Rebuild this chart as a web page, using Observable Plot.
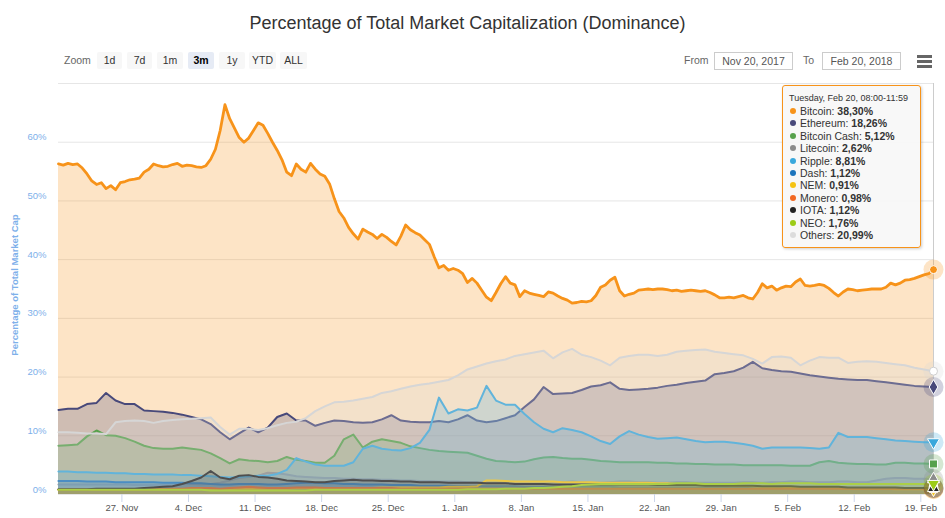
<!DOCTYPE html>
<html><head><meta charset="utf-8">
<script src="https://cdn.jsdelivr.net/npm/d3@7"></script>
<script src="https://cdn.jsdelivr.net/npm/@observablehq/plot@0.6"></script>
<style>
body{margin:0;width:945px;height:518px;overflow:hidden;background:#fff;position:relative;font-family:"Liberation Sans",Arial,sans-serif}
.abs{position:absolute}
#title{top:13px;left:0;width:935px;text-align:center;font-size:18px;color:#333;line-height:21px}
.lbl{font-size:10.5px;color:#666;line-height:17px;top:52px}
.btn{top:52px;height:17px;line-height:17px;background:#f7f7f7;color:#333;font-size:10.5px;text-align:center;border-radius:2px}
.btn.sel{background:#e6ebf5;color:#000;font-weight:bold}
.inp{top:52px;height:16px;line-height:16px;border:1px solid #cccccc;color:#555;font-size:10.5px;text-align:center;box-sizing:border-box;height:18px}
.bar{left:917px;width:15px;height:2.5px;background:#666}
#ytitle{left:14px;top:285px;transform:translate(-50%,-50%) rotate(-90deg);white-space:nowrap;font-weight:bold;font-size:9.5px;color:#7eb0ea}
#chart{top:75px;left:0}
#tip{left:782px;top:85px;width:139px;height:163px;box-sizing:border-box;background:rgba(247,247,247,0.9);border:1px solid #f7931a;border-radius:3px;box-shadow:1px 1px 3px rgba(0,0,0,0.2);padding:6px 0 0 6px;color:#333}
#tip .hd{font-size:9px;line-height:12px;margin-bottom:1px}
#tip .row{font-size:10.5px;line-height:12.4px;white-space:nowrap}
#tip .dot{display:inline-block;width:6px;height:6px;border-radius:50%;margin:0 4px 0 1px;vertical-align:1px}
</style></head><body>
<div id="title" class="abs">Percentage of Total Market Capitalization (Dominance)</div>
<div id="toolbar"></div>
<div id="ytitle" class="abs">Percentage of Total Market Cap</div>
<div id="chart" class="abs"></div>
<div id="tip" class="abs"></div>
<script>
// ---- data ----
const startTime = "2017-11-20T08:00:00Z";
const endTime = "2018-02-20T08:00:00Z";
const seriesNames = ["Bitcoin","Ethereum","Bitcoin Cash","Litecoin","Ripple","Dash","NEM","Monero","IOTA","NEO","Others"];
const seriesColors = ["#f7931a","#48497a","#57a14c","#8c8c8c","#3aa8dc","#1c74bc","#f5c314","#f26822","#222222","#9ccc18","#d6d6d6"];
const tooltipHeader = "Tuesday, Feb 20, 08:00-11:59";
const tooltipValues = ["38,30%","18,26%","5,12%","2,62%","8,81%","1,12%","0,91%","0,98%","1,12%","1,76%","20,99%"];
const xTickDates = ["2017-11-27","2017-12-04","2017-12-11","2017-12-18","2017-12-25","2018-01-01","2018-01-08","2018-01-15","2018-01-22","2018-01-29","2018-02-05","2018-02-12","2018-02-19"];
const yTickValues = [0,10,20,30,40,50,60];
const yGridValues = [0,10,20,30,40,50,60,70];
const zoomButtons = ["1d","7d","1m","3m","1y","YTD","ALL"];
const selectedButton = "3m";
const fromDate = "Nov 20, 2017";
const toDate = "Feb 20, 2018";

// Bitcoin: every 12 hours
const bitcoin = [
56.3,56.1,56.4,56.2,56.3,55.6,54.6,53.4,52.8,53.1,
52.1,52.6,51.9,53.1,53.3,53.6,53.7,53.9,54.9,55.4,
56.3,56.0,55.8,55.9,56.2,56.4,55.9,56.1,56.0,55.8,
55.7,56.0,57.1,58.8,62.0,66.4,64.0,62.4,60.8,60.0,
60.7,62.0,63.3,62.9,61.5,60.0,58.6,57.0,54.9,54.3,
56.3,55.4,54.9,56.4,55.4,54.6,54.2,52.9,50.4,48.2,
47.1,45.5,44.4,43.5,45.2,44.7,44.3,43.6,44.3,43.8,
43.1,42.5,44.0,45.9,45.1,44.6,44.2,43.4,42.6,40.5,
38.6,39.0,38.2,38.5,38.2,37.6,36.1,36.8,36.0,34.8,
33.6,33.0,34.4,35.9,37.1,36.0,35.7,33.7,34.7,34.3,
34.1,33.9,33.7,34.5,34.3,33.8,33.4,33.1,32.6,32.7,
32.9,32.8,33.0,33.9,35.3,35.7,36.5,37.0,34.7,33.8,
34.1,34.3,34.8,34.9,35.0,34.9,35.0,35.0,34.9,34.7,
34.8,34.6,34.7,34.8,34.7,34.6,34.7,34.4,34.0,33.5,
33.5,33.6,33.5,33.7,33.9,33.5,33.3,34.4,35.9,35.2,
35.5,34.8,35.2,35.5,35.4,36.2,36.7,35.6,35.5,35.6,
35.8,35.6,35.1,34.4,33.8,34.5,35.0,34.9,34.7,34.8,
34.9,35.0,35.0,35.0,35.3,36.0,35.7,36.0,36.5,36.6,
36.8,37.1,37.4,37.6,38.3];

// the rest: daily
const ethereum = [
14.4,14.6,14.6,15.4,15.6,17.3,16.0,15.4,15.4,14.3,
14.2,14.1,13.9,13.6,13.2,12.8,12.0,10.6,9.4,10.4,
11.4,10.6,11.4,13.2,13.8,12.6,12.6,11.7,12.2,12.6,
12.5,12.3,12.2,12.3,12.8,13.5,12.6,12.4,12.3,12.3,
12.5,12.3,12.8,13.5,12.6,12.3,12.5,13.0,13.5,14.9,
16.2,18.3,17.1,17.2,17.3,17.8,18.4,18.6,19.1,18.0,
17.8,17.9,18.0,18.2,18.5,18.7,19.0,19.2,19.4,20.5,
20.7,21.0,21.6,22.6,21.5,21.2,21.0,20.9,20.6,20.3,
20.1,19.9,19.7,19.6,19.5,19.5,19.3,19.1,18.9,18.7,
18.5,18.4,18.3];
const bitcoinCash = [
8.3,8.4,8.5,9.9,10.9,10.1,10.0,9.6,9.0,8.3,
7.9,7.8,7.8,8.0,7.8,7.6,7.0,6.2,5.3,6.0,
5.8,5.7,5.5,5.7,6.4,5.9,5.7,5.4,5.4,6.6,
9.4,10.2,8.0,9.0,9.4,9.1,8.8,8.2,7.9,7.6,
7.4,7.3,7.2,7.1,6.6,6.1,5.7,5.6,5.5,5.6,
6.0,6.3,6.4,6.2,6.1,6.1,5.9,5.7,5.6,5.5,
5.5,5.5,5.5,5.4,5.4,5.3,5.3,5.2,5.2,5.1,
5.1,5.1,5.0,5.0,5.0,5.0,5.0,4.9,4.9,4.9,
5.5,5.7,5.4,5.3,5.2,5.2,5.1,5.1,5.4,5.4,
5.3,5.3,5.2];
const litecoin = [
1.7,1.7,1.7,1.7,1.7,1.7,1.7,1.7,1.6,1.6,
1.6,1.6,1.7,1.8,1.8,1.7,1.8,2.0,2.4,2.8,
3.0,3.2,3.7,3.6,3.4,3.1,3.0,2.9,2.8,2.8,
2.7,2.7,2.6,2.6,2.5,2.5,2.4,2.4,2.3,2.3,
2.2,2.2,2.2,2.1,2.1,2.1,2.1,2.1,2.1,2.1,
2.2,2.2,2.1,2.1,2.2,2.1,2.0,2.0,2.1,2.2,
2.2,2.1,2.1,2.0,2.0,2.1,2.1,2.0,2.0,2.0,
2.0,2.0,2.1,2.1,2.0,2.1,2.1,2.2,2.2,2.1,
2.1,2.1,2.2,2.2,2.1,2.1,2.4,2.7,2.8,2.8,
2.7,2.7,2.6];
const ripple = [
3.9,3.9,3.8,3.8,3.7,3.7,3.6,3.6,3.5,3.5,
3.4,3.4,3.4,3.3,3.3,3.2,3.1,3.0,2.9,3.0,
3.1,3.2,3.2,3.5,4.2,6.2,5.6,5.1,4.9,4.9,
4.9,5.5,7.8,8.3,7.8,7.6,7.5,7.9,8.8,11.0,
16.5,13.8,14.5,14.3,14.8,18.5,16.0,15.3,15.3,13.7,
12.3,11.2,10.6,11.3,11.0,10.6,9.9,9.1,8.6,9.9,
10.8,10.2,9.8,9.5,9.6,9.7,9.4,9.1,8.9,9.0,
9.0,8.8,8.6,8.3,7.8,8.0,8.0,8.0,8.0,7.9,
7.8,8.0,10.5,9.8,9.8,9.8,9.6,9.4,9.2,9.1,
9.0,8.9,8.9];
const dash = [
2.3,2.3,2.3,2.2,2.2,2.2,2.1,2.1,2.1,2.1,
2.1,2.0,2.0,2.0,1.9,1.9,1.8,1.7,1.7,1.8,
1.8,1.8,1.7,1.7,1.8,1.9,2.0,2.0,1.9,1.9,
1.8,1.8,1.7,1.7,1.7,1.6,1.6,1.6,1.5,1.5,
1.5,1.5,1.4,1.4,1.4,1.4,1.4,1.4,1.4,1.3,
1.3,1.3,1.3,1.3,1.3,1.3,1.3,1.3,1.3,1.2,
1.2,1.2,1.2,1.2,1.2,1.2,1.2,1.2,1.2,1.2,
1.2,1.2,1.2,1.2,1.2,1.2,1.2,1.2,1.1,1.1,
1.1,1.1,1.1,1.1,1.1,1.1,1.1,1.1,1.1,1.1,
1.1,1.1,1.1];
const nem = [
0.8,0.8,0.8,0.8,0.8,0.8,0.8,0.8,0.8,0.8,
0.9,0.9,0.9,0.9,1.0,1.0,1.0,0.9,0.9,1.0,
1.0,1.0,1.0,1.0,1.0,1.1,1.1,1.1,1.1,1.1,
1.1,1.1,1.1,1.1,1.2,1.2,1.2,1.2,1.2,1.2,
1.2,1.3,1.3,1.3,1.4,2.4,2.4,2.3,2.2,2.2,
2.2,2.2,2.2,2.1,2.1,2.1,2.1,2.0,2.0,2.0,
2.0,2.0,2.0,1.9,1.9,1.8,1.8,1.7,1.7,1.6,
1.6,1.5,1.5,1.4,1.3,1.3,1.3,1.2,1.2,1.2,
1.1,1.1,1.1,1.0,1.0,1.0,1.0,1.0,0.9,0.9,
0.9,0.9,0.9];
const monero = [
0.8,0.8,0.8,0.8,0.8,0.8,0.8,0.8,0.8,0.8,
0.9,0.9,1.0,1.0,1.1,1.1,1.1,1.0,1.1,1.2,
1.3,1.2,1.1,1.1,1.1,1.2,1.2,1.2,1.1,1.1,
1.1,1.1,1.1,1.1,1.1,1.1,1.0,1.0,1.0,1.0,
1.0,1.0,1.0,1.0,1.0,1.0,1.0,1.0,1.0,1.0,
1.0,1.0,1.0,1.0,1.0,1.0,1.0,1.0,1.0,1.0,
1.0,1.0,1.0,1.0,1.0,1.0,1.0,1.0,1.0,1.0,
1.0,1.0,1.0,1.0,1.0,1.0,1.0,1.0,1.0,1.0,
1.0,1.0,1.0,1.0,1.0,1.0,1.0,1.0,1.0,1.0,
1.0,1.0,1.0];
const iota = [
0.9,0.9,0.9,0.9,1.0,1.0,1.0,1.0,1.0,1.1,
1.2,1.3,1.4,1.8,2.3,2.9,4.0,2.9,2.6,3.2,
3.3,3.0,2.9,2.7,2.4,2.3,2.2,2.1,2.1,2.3,
2.4,2.5,2.4,2.4,2.3,2.3,2.2,2.2,2.1,2.1,
2.1,2.0,2.0,2.0,2.0,1.9,1.9,1.9,1.8,1.8,
1.8,1.8,1.7,1.7,1.7,1.7,1.7,1.7,1.7,1.7,
1.7,1.7,1.7,1.6,1.6,1.6,1.6,1.6,1.5,1.5,
1.5,1.5,1.5,1.5,1.4,1.4,1.4,1.4,1.3,1.3,
1.3,1.3,1.3,1.2,1.2,1.2,1.2,1.2,1.2,1.1,
1.1,1.1,1.1];
const neo = [
0.8,0.8,0.8,0.8,0.8,0.8,0.8,0.8,0.8,0.8,
0.8,0.8,0.8,0.8,0.8,0.8,0.7,0.7,0.7,0.7,
0.7,0.7,0.7,0.7,0.7,0.7,0.7,0.8,0.8,0.8,
0.8,0.8,0.8,0.8,0.8,0.8,0.8,0.8,0.8,0.8,
0.8,0.8,0.8,0.9,0.9,0.9,0.9,1.0,1.0,1.0,
1.1,1.1,1.2,1.3,1.4,1.6,1.7,1.8,1.8,1.8,
1.8,1.8,1.8,1.8,1.8,1.9,1.9,1.9,1.8,1.8,
1.8,1.8,1.9,1.9,1.9,1.8,1.9,1.9,1.9,1.9,
1.8,1.8,1.8,1.8,1.8,1.8,1.8,1.8,1.8,1.8,
1.8,1.8,1.8];
const others = [
10.6,10.6,10.5,10.4,10.4,10.3,12.3,12.5,12.6,12.5,
12.2,12.5,12.7,12.8,12.9,13.0,13.1,11.5,10.2,11.2,
11.2,11.0,11.3,11.8,12.2,12.4,13.0,14.2,15.0,15.7,
15.8,16.0,16.3,16.6,17.3,17.6,18.0,18.4,18.7,18.9,
19.2,19.5,20.3,21.3,21.8,22.3,22.7,23.0,23.6,23.9,
24.2,24.5,23.2,24.2,24.8,23.8,23.4,22.8,22.0,23.3,
23.6,23.8,23.8,23.6,23.8,24.3,24.5,24.6,24.7,24.3,
24.1,23.9,23.7,23.1,22.3,23.4,23.5,23.3,22.0,22.8,
23.4,23.3,23.3,22.4,22.6,22.7,22.6,22.4,22.2,22.0,
21.6,21.3,21.0];

const seriesValues = [bitcoin, ethereum, bitcoinCash, litecoin, ripple, dash, nem, monero, iota, neo, others];
const seriesStepHours = [12,24,24,24,24,24,24,24,24,24,24];
const markerSymbols = ["circle","diamond","square","triangle","triangle","circle","diamond","square","triangle","triangle","circle"];
const markerRotate = [0,0,0,0,180,0,0,0,0,180,0];

// ---- build ----
const t0 = new Date(startTime).getTime();
const t1 = new Date(endTime);
const rowsOf = k => seriesValues[k].map((v, i) => ({date: new Date(t0 + i * seriesStepHours[k] * 3600e3), value: v}));
const font = '"Liberation Sans", Arial, sans-serif';

const marks = [];
marks.push(Plot.ruleY(yGridValues, {stroke: "#e6e6e6", strokeWidth: 1}));
marks.push(Plot.ruleX([t1], {stroke: "#cccccc", strokeWidth: 1}));
seriesNames.forEach((name, k) => {
  const rows = rowsOf(k);
  marks.push(Plot.areaY(rows, {x: "date", y: "value", fill: seriesColors[k], fillOpacity: 0.25}));
  marks.push(Plot.lineY(rows, {x: "date", y: "value", stroke: seriesColors[k], strokeWidth: k === 0 ? 2.8 : 2, strokeLinejoin: "round"}));
});
seriesNames.forEach((name, k) => {
  const rows = rowsOf(k);
  const last = [rows[rows.length - 1]];
  marks.push(Plot.dot(last, {x: "date", y: "value", r: 10, fill: seriesColors[k], fillOpacity: 0.25, stroke: "none"}));
});
seriesNames.forEach((name, k) => {
  const rows = rowsOf(k);
  const last = [rows[rows.length - 1]];
  marks.push(Plot.dot(last, {x: "date", y: "value", r: k === 0 || k === 10 ? 4 : 4.5, symbol: markerSymbols[k], rotate: markerRotate[k],
    fill: k === 10 ? "#ffffff" : seriesColors[k], stroke: k === 10 ? "#d0d0d0" : "#ffffff", strokeWidth: 1}));
});
marks.push(Plot.text(yTickValues, {y: d => d, frameAnchor: "left", dx: -12, dy: -5, textAnchor: "end", text: d => d + "%", fill: "#7eb0ea", fontSize: 9.5}));
marks.push(Plot.axisX({ticks: xTickDates.map(d => new Date(d + "T00:00:00Z")), tickFormat: d3.utcFormat("%-d. %b"),
  tickSize: 8, tickPadding: 2, stroke: "#ccd6eb", fill: "#555", label: null, fontSize: 9.5}));

const chart = Plot.plot({
  width: 945, height: 443,
  marginTop: 8, marginBottom: 24, marginLeft: 58, marginRight: 12,
  x: {type: "utc", domain: [new Date(startTime), t1]},
  y: {domain: [0, 70], axis: null},
  style: {fontFamily: font, fontSize: "9.5px", background: "transparent", overflow: "visible"},
  marks
});
document.getElementById("chart").appendChild(chart);

// toolbar
const tb = document.getElementById("toolbar");
function add(cls, text, left, width, extra) {
  const e = document.createElement("div");
  e.className = "abs " + cls;
  e.textContent = text;
  e.style.left = left + "px";
  if (width) e.style.width = width + "px";
  if (extra) Object.assign(e.style, extra);
  tb.appendChild(e);
  return e;
}
add("lbl", "Zoom", 64);
const btnLeft = [97,127,157,188,219,249,280];
const btnWidth = [25,25,26,26,26,27,27];
zoomButtons.forEach((b, i) => add("btn" + (b === selectedButton ? " sel" : ""), b, btnLeft[i], btnWidth[i]));
add("lbl", "From", 684);
add("inp", fromDate, 714, 79);
add("lbl", "To", 803);
add("inp", toDate, 822, 79);
[55, 60, 65].forEach(t => add("bar", "", 917, 15, {top: t + "px"}));

// tooltip
const tip = document.getElementById("tip");
const hd = document.createElement("div");
hd.className = "hd"; hd.textContent = tooltipHeader; tip.appendChild(hd);
seriesNames.forEach((n, k) => {
  const r = document.createElement("div");
  r.className = "row";
  const d = document.createElement("span");
  d.className = "dot"; d.style.background = seriesColors[k] === "#d6d6d6" ? "#dcdcdc" : seriesColors[k];
  r.appendChild(d);
  r.appendChild(document.createTextNode(n + ": "));
  const b = document.createElement("b"); b.textContent = tooltipValues[k];
  r.appendChild(b);
  tip.appendChild(r);
});
</script>
</body></html>
